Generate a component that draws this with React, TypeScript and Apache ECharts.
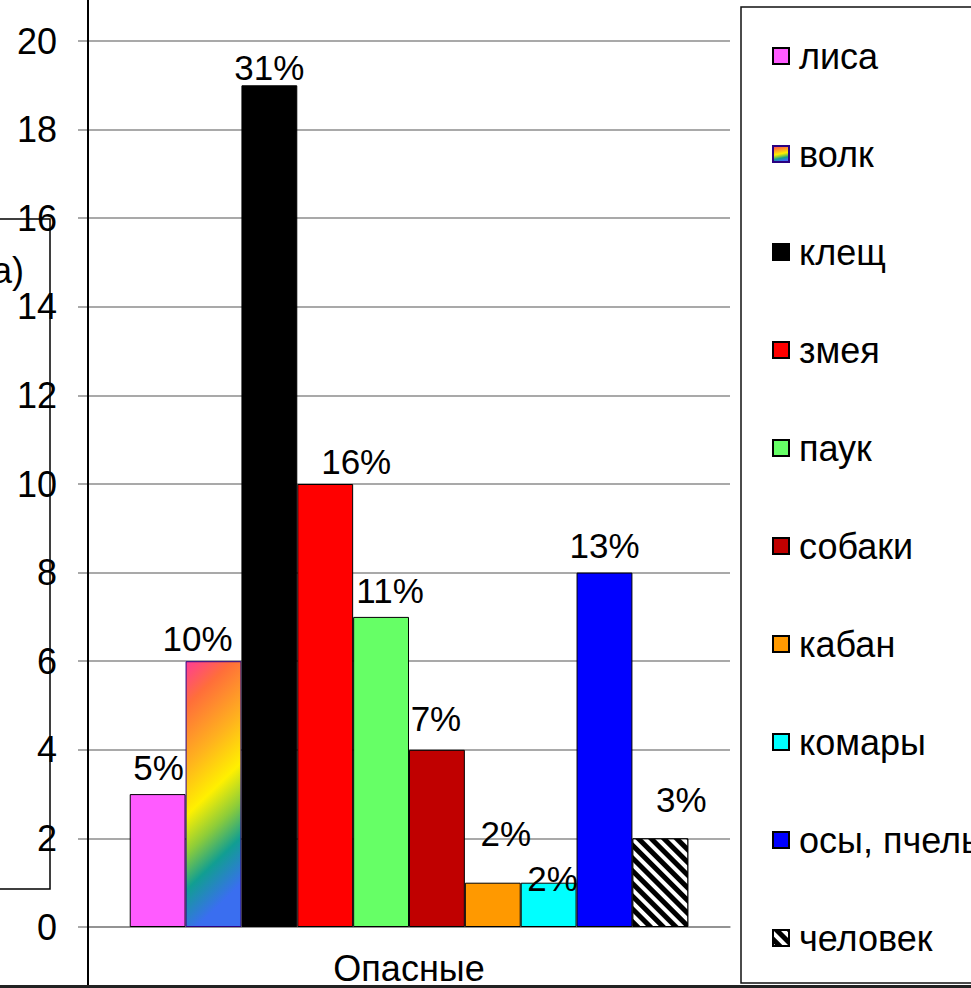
import React, { useEffect, useRef } from "react";
import * as echarts from "echarts";

const categories = ["Опасные"];
const seriesNames = ["лиса", "волк", "клещ", "змея", "паук", "собаки", "кабан", "комары", "осы, пчелы", "человек"];
const seriesValues = [3, 6, 19, 10, 7, 4, 1, 1, 8, 2];
const percentLabels = ["5%", "10%", "31%", "16%", "11%", "7%", "2%", "2%", "13%", "3%"];
const yTicks = { min: 0, max: 20, interval: 2 };

const FONT = "'Liberation Sans', Arial, sans-serif";

const labelOffsets: [number, number][] = [
  [1, -4], [-16, 0], [0, 5], [31, 0], [9, -4], [-1, -9], [13, -27], [4, 18], [0, -5], [21, -16],
];

const wolfGradient = new echarts.graphic.LinearGradient(0, 0, 0.2, 1, [
  { offset: 0, color: "#ff3c96" },
  { offset: 0.16, color: "#ff6e3a" },
  { offset: 0.38, color: "#ffb21e" },
  { offset: 0.56, color: "#fff000" },
  { offset: 0.7, color: "#8ccc3a" },
  { offset: 0.83, color: "#119e92" },
  { offset: 1, color: "#3a6ef0" },
]);

const colors: any[] = [
  "#ff5bff", wolfGradient, "#000000", "#ff0000", "#66ff66", "#c00000", "#ff9900", "#00ffff", "#0000ff", "#000000",
];
const borderColors = ["#000", "#2a0080", "#000", "#000", "#000", "#000", "#000", "#000", "#000", "#000"];

export default function App() {
  const ref = useRef<HTMLDivElement>(null);
  useEffect(() => {
    if (!ref.current) return;
    const chart = echarts.init(ref.current, undefined, { renderer: "svg" });
    const series = seriesNames.map((name, i) => ({
      name,
      type: "bar",
      barGap: "0%",
      barCategoryGap: "13%",
      data: [seriesValues[i]],
      itemStyle: {
        color: colors[i],
        borderColor: borderColors[i],
        borderWidth: 1,
        ...(i === 9
          ? {
              decal: {
                symbol: "rect",
                symbolSize: 1,
                color: "#ffffff",
                dashArrayX: [1, 0],
                dashArrayY: [4, 5],
                rotation: Math.PI / 4,
              },
            }
          : {}),
      },
      label: {
        show: true,
        position: "top",
        distance: 5,
        offset: labelOffsets[i],
        formatter: () => percentLabels[i],
        fontSize: 35,
        fontFamily: FONT,
        color: "#000",
      },
    }));

    chart.setOption({
      animation: false,
      backgroundColor: "#ffffff",
      grid: { left: 88, right: 241, top: 41, bottom: 61, containLabel: false },
      xAxis: {
        type: "category",
        data: categories,
        axisLine: { show: true, lineStyle: { color: "#8c8c8c", width: 1.5 } },
        axisTick: { show: false },
        axisLabel: { fontSize: 36, fontFamily: FONT, color: "#000", margin: 23 },
      },
      yAxis: {
        type: "value",
        min: yTicks.min,
        max: yTicks.max,
        interval: yTicks.interval,
        axisLine: { show: false },
        axisTick: { show: true, length: 10, lineStyle: { color: "#8c8c8c", width: 1.5 } },
        axisLabel: { fontSize: 36, fontFamily: FONT, color: "#000", margin: 31 },
        splitLine: { show: true, lineStyle: { color: "#8c8c8c", width: 1.5 } },
      },
      legend: {
        orient: "vertical",
        left: 767,
        top: 31,
        itemWidth: 16,
        itemHeight: 16,
        itemGap: 58,
        icon: "rect",
        textStyle: { fontSize: 36, fontFamily: FONT, color: "#000", lineHeight: 40, padding: [0, 0, 0, 5] },
        data: seriesNames,
      },
      graphic: [
        {
          type: "line",
          z: 10,
          shape: { x1: 88, y1: 0, x2: 88, y2: 986 },
          style: { stroke: "#000", lineWidth: 2 },
          silent: true,
        },
        {
          type: "rect",
          z: 10,
          shape: { x: 741, y: 7, width: 300, height: 976 },
          style: { fill: "none", stroke: "#111", lineWidth: 1.5 },
          silent: true,
        },
        {
          type: "polyline",
          z: 10,
          shape: { points: [[0, 219], [50, 219], [50, 889], [0, 889]] },
          style: { fill: "none", stroke: "#000", lineWidth: 1.5 },
          silent: true,
        },
        {
          type: "text",
          z: 10,
          x: 24,
          y: 270,
          style: { text: "а)", fontSize: 36, fontFamily: FONT, fill: "#000", align: "right", verticalAlign: "middle" },
          silent: true,
        },
        {
          type: "rect",
          z: 10,
          shape: { x: 0, y: 985, width: 971, height: 3 },
          style: { fill: "#222" },
          silent: true,
        },
      ],
      series,
    });
    return () => chart.dispose();
  }, []);
  return (
    <div
      ref={ref}
      style={{ position: "absolute", left: 0, top: 0, width: 971, height: 988, background: "#fff" }}
    />
  );
}
